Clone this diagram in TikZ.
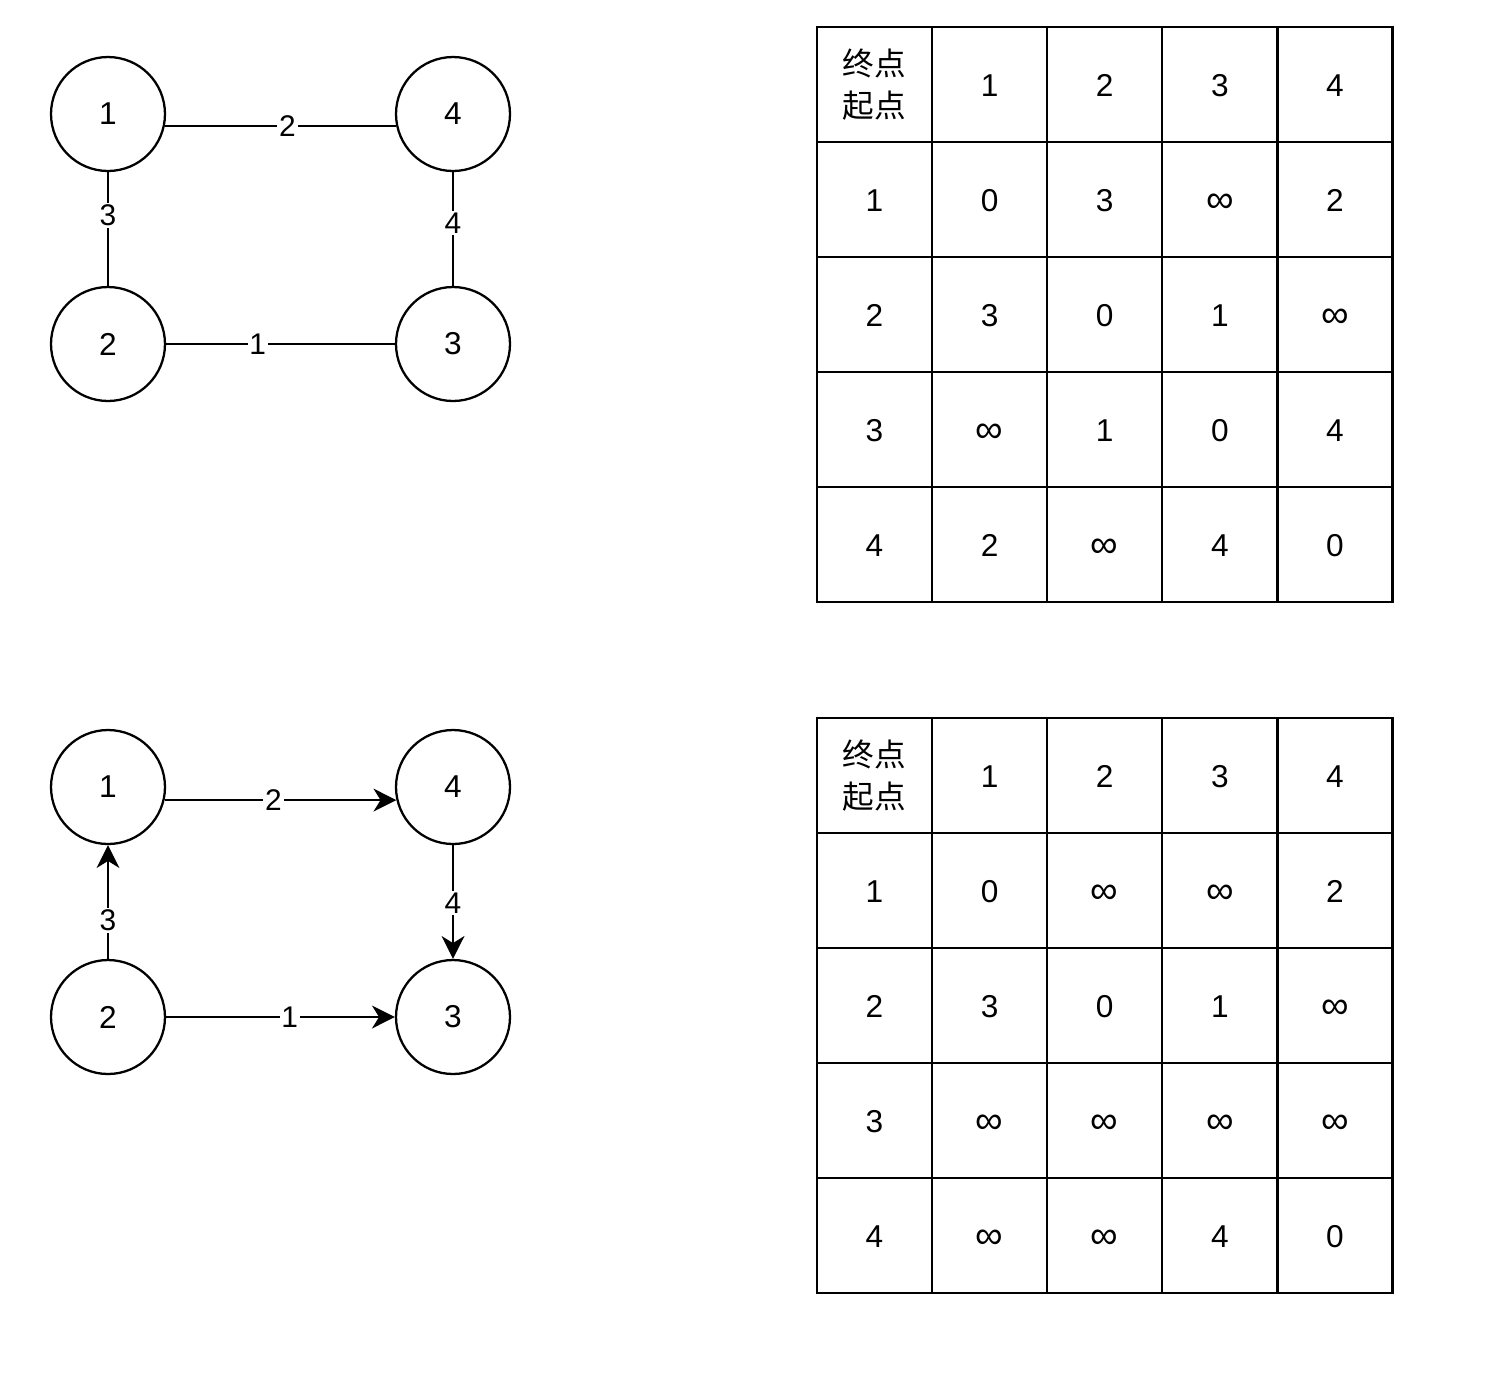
\documentclass[tikz,border=0pt]{standalone}
\usepackage{fontspec}
\setmainfont{Liberation Sans}
\newfontfamily\cjk{Noto Sans CJK SC}
\usetikzlibrary{arrows.meta}

\newcommand\infsym{\raisebox{-0.5pt}{\fontsize{22}{22}\selectfont ∞}}

\tikzset{
  vertex/.style={draw, circle, line width=1.3pt, minimum size=2.28cm, inner sep=0pt, font=\fontsize{18}{21}\selectfont},
  wlabel/.style={fill=white, inner sep=1pt, font=\fontsize{17}{19}\selectfont},
  cell/.style={draw, line width=1.3pt, minimum size=2.3cm, inner sep=0pt, text height=13.7pt, text depth=0pt, font=\fontsize{18}{21}\selectfont},
  headcell/.style={draw, line width=1.3pt, minimum size=2.3cm, inner sep=0pt, align=center, font=\cjk\fontsize{18}{24}\selectfont},
  edge/.style={line width=1.3pt}
}

\begin{document}
\begin{tikzpicture}[x=0.02cm, y=-0.02cm, >={Stealth[length=13pt, width=13pt, inset=4pt]}]
    \useasboundingbox (0,0) rectangle (1490,1384);

    % Undirected graph
    \node[vertex] (t1) at (108,114) {1};
    \node[vertex] (t4) at (453,114) {4};
    \node[vertex] (t2) at (108,344) {2};
    \node[vertex] (t3) at (453,344) {3};
    \draw[edge] (t1.-12) -- node[wlabel, pos=0.53] {2} (t4.192);
    \draw[edge] (t1.south) -- node[wlabel, pos=0.38] {3} (t2.north);
    \draw[edge] (t4.south) -- node[wlabel, pos=0.45] {4} (t3.north);
    \draw[edge] (t2.east) -- node[wlabel, pos=0.4] {1} (t3.west);

    % Directed graph
    \node[vertex] (b1) at (108,787) {1};
    \node[vertex] (b4) at (453,787) {4};
    \node[vertex] (b2) at (108,1017) {2};
    \node[vertex] (b3) at (453,1017) {3};
    \draw[edge, ->] (b1.-13) -- node[wlabel, pos=0.47] {2} (b4.193);
    \draw[edge, ->] (b2.north) -- node[wlabel, pos=0.34] {3} (b1.south);
    \draw[edge, ->] (b4.south) -- node[wlabel, pos=0.51] {4} (b3.north);
    \draw[edge, ->] (b2.east) -- node[wlabel, pos=0.54] {1} (b3.west);

    % Adjacency matrix, undirected
    \node[headcell] (ta-0-0) at (874.5,84.5) {终点\\起点};
    \foreach \v [count=\c] in {1,2,3,4} {
        \node[cell] (ta-0-\c) at (874.5+115.1*\c,84.5) {\v};
    }
    \foreach \r/\vals in {1/{1,0,3,\infsym,2}, 2/{2,3,0,1,\infsym}, 3/{3,\infsym,1,0,4}, 4/{4,2,\infsym,4,0}} {
        \foreach \v [count=\c from 0] in \vals {
            \node[cell] (ta-\r-\c) at (874.5+115.1*\c,84.5+115*\r) {\v};
        }
    }

    % Adjacency matrix, directed
    \node[headcell] (tb-0-0) at (874.5,775.5) {终点\\起点};
    \foreach \v [count=\c] in {1,2,3,4} {
        \node[cell] (tb-0-\c) at (874.5+115.1*\c,775.5) {\v};
    }
    \foreach \r/\vals in {1/{1,0,\infsym,\infsym,2}, 2/{2,3,0,1,\infsym}, 3/{3,\infsym,\infsym,\infsym,\infsym}, 4/{4,\infsym,\infsym,4,0}} {
        \foreach \v [count=\c from 0] in \vals {
            \node[cell] (tb-\r-\c) at (874.5+115.1*\c,775.5+115*\r) {\v};
        }
    }

\end{tikzpicture}
\end{document}
